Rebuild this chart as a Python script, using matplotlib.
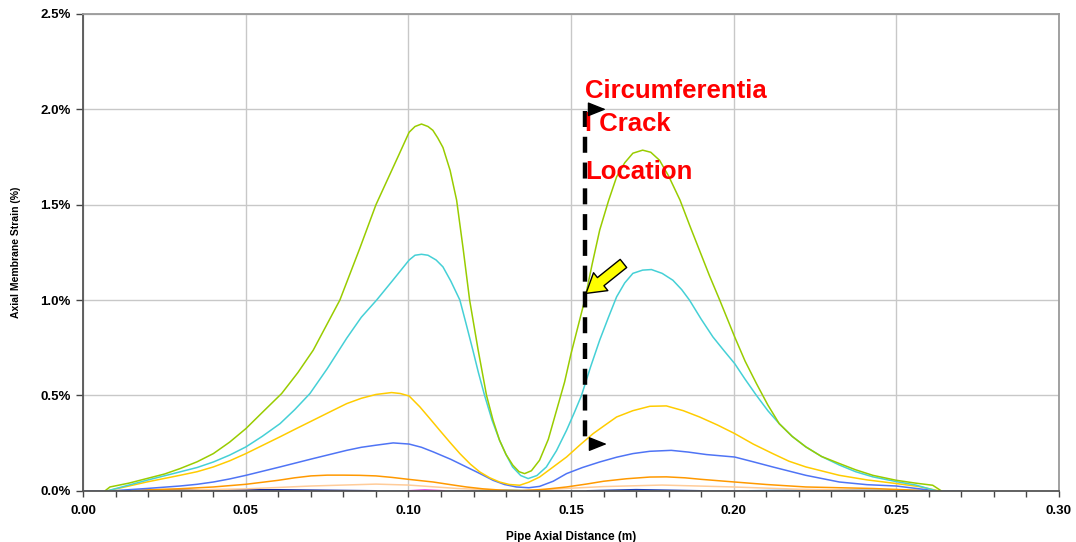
import numpy as np
import matplotlib.pyplot as plt
from matplotlib.ticker import MultipleLocator, FuncFormatter

plt.rcParams['font.family'] = ['Liberation Sans', 'DejaVu Sans']

# strain (%) vs pipe axial distance (m)
green_x = [0.0067, 0.0082, 0.014, 0.0195, 0.025, 0.0297, 0.035, 0.040, 0.045, 0.050, 0.055, 0.061,
           0.066, 0.0707, 0.0789, 0.085, 0.090, 0.097, 0.1002, 0.102, 0.104, 0.106, 0.1075, 0.109,
           0.1106, 0.1128, 0.1148, 0.1168, 0.1188, 0.1214, 0.124, 0.126, 0.128, 0.130, 0.1321,
           0.134, 0.1357, 0.1378, 0.1403, 0.143, 0.1455, 0.148, 0.150, 0.1542, 0.1565, 0.1588,
           0.1615, 0.164, 0.1665, 0.169, 0.172, 0.1745, 0.1772, 0.180, 0.1835, 0.1865, 0.1895,
           0.1925, 0.1957, 0.2003, 0.2035, 0.207, 0.2105, 0.214, 0.218, 0.2222, 0.227, 0.2325,
           0.2375, 0.2428, 0.25, 0.256, 0.2612, 0.2638]
green_y = [0, 0.02, 0.04, 0.064, 0.088, 0.116, 0.152, 0.195, 0.255, 0.326, 0.41, 0.51,
           0.62, 0.737, 1.0, 1.27, 1.50, 1.76, 1.88, 1.91, 1.923, 1.91, 1.89, 1.85,
           1.80, 1.68, 1.524, 1.27, 1.0, 0.74, 0.50, 0.37, 0.265, 0.19, 0.134,
           0.10, 0.09, 0.105, 0.16, 0.27, 0.42, 0.57, 0.72, 1.0, 1.19, 1.367,
           1.52, 1.646, 1.72, 1.77, 1.786, 1.775, 1.733, 1.65, 1.524, 1.39, 1.26,
           1.13, 1.0, 0.807, 0.68, 0.562, 0.45, 0.352, 0.285, 0.23, 0.18, 0.143,
           0.11, 0.081, 0.055, 0.04, 0.029, 0]

cyan_x = [0.0075, 0.0195, 0.0297, 0.035, 0.040, 0.045, 0.050, 0.055, 0.0605, 0.065, 0.0697,
          0.075, 0.081, 0.0855, 0.0902, 0.095, 0.1002, 0.102, 0.104, 0.106, 0.1085, 0.1106,
          0.113, 0.1158, 0.1178, 0.1198, 0.1215, 0.1234, 0.1257, 0.128, 0.130, 0.132, 0.1345,
          0.1368, 0.1395, 0.1424, 0.1455, 0.1486, 0.151, 0.1532, 0.156, 0.1588, 0.1615, 0.164,
          0.1665, 0.169, 0.172, 0.1747, 0.178, 0.1813, 0.184, 0.1864, 0.190, 0.1936, 0.197,
          0.2003, 0.2035, 0.207, 0.2105, 0.214, 0.218, 0.2222, 0.227, 0.2325, 0.2375, 0.2428,
          0.25, 0.256, 0.2623]
cyan_y = [0, 0.055, 0.099, 0.122, 0.151, 0.187, 0.23, 0.285, 0.352, 0.425, 0.51,
          0.64, 0.80, 0.91, 1.0, 1.10, 1.21, 1.235, 1.24, 1.235, 1.21, 1.174,
          1.10, 1.0, 0.87, 0.737, 0.62, 0.50, 0.37, 0.265, 0.19, 0.125, 0.08,
          0.064, 0.08, 0.125, 0.21, 0.317, 0.41, 0.50, 0.65, 0.79, 0.91, 1.017,
          1.09, 1.14, 1.157, 1.16, 1.14, 1.104, 1.055, 1.0, 0.90, 0.807, 0.735,
          0.667, 0.585, 0.50, 0.42, 0.352, 0.285, 0.23, 0.18, 0.135, 0.10, 0.073,
          0.048, 0.03, 0]

gold_x = [0.0075, 0.0195, 0.0297, 0.035, 0.040, 0.045, 0.050, 0.055, 0.0605, 0.0655, 0.0707,
          0.076, 0.081, 0.0855, 0.090, 0.0948, 0.0975, 0.1002, 0.1035, 0.1065, 0.1096, 0.1127,
          0.1158, 0.119, 0.1219, 0.125, 0.128, 0.131, 0.1342, 0.137, 0.1403, 0.1445, 0.1486,
          0.1527, 0.1568, 0.1605, 0.164, 0.169, 0.1742, 0.1793, 0.1845, 0.1895, 0.195, 0.2003,
          0.206, 0.212, 0.217, 0.2222, 0.2325, 0.241, 0.25, 0.257, 0.263]
gold_y = [0, 0.046, 0.081, 0.10, 0.125, 0.157, 0.195, 0.237, 0.283, 0.326, 0.37,
          0.415, 0.457, 0.485, 0.505, 0.515, 0.51, 0.497, 0.44, 0.38, 0.317, 0.255,
          0.195, 0.14, 0.099, 0.068, 0.046, 0.033, 0.029, 0.045, 0.072, 0.125, 0.177,
          0.24, 0.30, 0.345, 0.387, 0.42, 0.443, 0.445, 0.42, 0.387, 0.345, 0.30,
          0.245, 0.195, 0.155, 0.125, 0.081, 0.057, 0.038, 0.022, 0]

blue_x = [0.009, 0.0195, 0.0297, 0.035, 0.040, 0.045, 0.050, 0.0605, 0.0707, 0.081, 0.0855,
          0.090, 0.0953, 0.1002, 0.104, 0.1076, 0.113, 0.1178, 0.122, 0.126, 0.1295, 0.1332,
          0.137, 0.1403, 0.1445, 0.1486, 0.1535, 0.1588, 0.164, 0.169, 0.1742, 0.1808, 0.186,
          0.1916, 0.2003, 0.206, 0.212, 0.2222, 0.2325, 0.241, 0.25, 0.262]
blue_y = [0, 0.012, 0.025, 0.034, 0.046, 0.062, 0.081, 0.125, 0.169, 0.212, 0.228,
          0.239, 0.251, 0.245, 0.228, 0.204, 0.165, 0.125, 0.09, 0.055, 0.033, 0.02,
          0.016, 0.023, 0.05, 0.09, 0.122, 0.151, 0.176, 0.195, 0.207, 0.212, 0.203,
          0.19, 0.177, 0.152, 0.125, 0.081, 0.046, 0.032, 0.025, 0]

orange_x = [0.015, 0.02, 0.03, 0.04, 0.05, 0.06, 0.065, 0.07, 0.075, 0.08, 0.085, 0.09, 0.095,
            0.10, 0.1076, 0.113, 0.1178, 0.123, 0.128, 0.135, 0.142, 0.1486, 0.155, 0.16, 0.167,
            0.1742, 0.1793, 0.185, 0.19, 0.2003, 0.21, 0.2222, 0.2428, 0.26]
orange_y = [0, 0.005, 0.011, 0.02, 0.034, 0.055, 0.068, 0.078, 0.082, 0.082, 0.081, 0.078, 0.07,
            0.06, 0.046, 0.032, 0.02, 0.01, 0.004, 0, 0.008, 0.02, 0.036, 0.05, 0.063,
            0.072, 0.073, 0.068, 0.06, 0.046, 0.033, 0.02, 0.012, 0]

peach_x = [0.02, 0.05, 0.07, 0.09, 0.10, 0.115, 0.13, 0.14, 0.16, 0.178, 0.20, 0.22, 0.25]
peach_y = [0, 0.01, 0.025, 0.035, 0.03, 0.012, 0.002, 0.005, 0.022, 0.03, 0.02, 0.008, 0]

# lines hugging zero
navy_x, navy_y = [0.012, 0.03, 0.06, 0.09], [0, 0.005, 0.005, 0]
dblue_x, dblue_y = [0.155, 0.17, 0.19], [0, 0.006, 0]
mag_x, mag_y = [0.100, 0.105, 0.111], [0, 0.004, 0]
sky_x, sky_y = [0.122, 0.13, 0.14], [0, 0.004, 0]
azure_x, azure_y = [0.205, 0.23, 0.262], [0, 0.005, 0]
base_x, base_y = [0.0, 0.27], [0, 0]

series = [
    (base_x, base_y, '#7b96ee'),
    (navy_x, navy_y, '#0a1f9e'),
    (dblue_x, dblue_y, '#1f3fb5'),
    (mag_x, mag_y, '#e020e0'),
    (sky_x, sky_y, '#12c8f0'),
    (azure_x, azure_y, '#1e90ff'),
    (peach_x, peach_y, '#ffcc99'),
    (orange_x, orange_y, '#ff9900'),
    (blue_x, blue_y, '#4f74f5'),
    (gold_x, gold_y, '#ffcc00'),
    (cyan_x, cyan_y, '#45d0d6'),
    (green_x, green_y, '#99cc00'),
]

fig = plt.figure(figsize=(10.76, 5.42), dpi=100)
ax = fig.add_axes([0.0774, 0.0945, 0.9067, 0.8797])

for xs, ys, c in series:
    ax.plot(xs, ys, color=c, lw=1.1, solid_joinstyle='round')

ax.set_xlim(0, 0.30)
ax.set_ylim(0, 2.5)
ax.xaxis.set_major_locator(MultipleLocator(0.05))
ax.xaxis.set_minor_locator(MultipleLocator(0.01))
ax.yaxis.set_major_locator(MultipleLocator(0.5))
ax.xaxis.set_major_formatter(FuncFormatter(lambda v, p: '%.2f' % v))
ax.yaxis.set_major_formatter(FuncFormatter(lambda v, p: '%.1f%%' % v))
ax.grid(True, color='#c8c8c8', lw=1.0)
ax.set_axisbelow(True)

for s in ['left', 'bottom']:
    ax.spines[s].set_color('#555555')
    ax.spines[s].set_linewidth(1.3)
for s in ['top', 'right']:
    ax.spines[s].set_color('#9a9a9a')
    ax.spines[s].set_linewidth(1.3)

ax.tick_params(axis='both', which='both', direction='out', color='#444444', width=1.0)
ax.tick_params(axis='x', which='major', length=4, pad=6)
ax.tick_params(axis='x', which='minor', length=4)
ax.tick_params(axis='y', which='major', length=5, pad=4)
for lab in ax.get_xticklabels() + ax.get_yticklabels():
    lab.set_fontweight('bold')
    lab.set_fontsize(9.5)

ax.set_xlabel('Pipe Axial Distance (m)', fontsize=8.5, fontweight='bold', labelpad=10)
ax.set_ylabel('Axial Membrane Strain (%)', fontsize=7.5, fontweight='bold', labelpad=14)

# crack location annotation
crack_x = 0.1543
tfont = dict(color='red', fontsize=18.5, fontweight='bold', ha='left', va='baseline')
ax.text(crack_x, 2.06, 'Circumferentia', **tfont)
ax.text(crack_x, 1.885, 'l Crack', **tfont)
ax.text(crack_x, 1.633, 'Location', **tfont)

ax.plot([crack_x, crack_x], [1.99, 0.26], color='black', lw=3.2, ls=(0, (3.6, 2.2)))
head = dict(arrowstyle='-|>,head_length=0.8,head_width=0.32', color='black', lw=1.0,
            mutation_scale=14, shrinkA=0, shrinkB=0)
ax.annotate('', xy=(0.1607, 2.0), xytext=(0.1557, 2.0), arrowprops=head)
ax.annotate('', xy=(0.1610, 0.245), xytext=(0.1560, 0.245), arrowprops=head)

ax.annotate('', xy=(0.1546, 1.035), xytext=(0.1661, 1.192),
            arrowprops=dict(arrowstyle='simple,head_length=0.9,head_width=1.1,tail_width=0.5',
                            fc='#ffff00', ec='black', lw=1.0, mutation_scale=15,
                            shrinkA=0, shrinkB=0))

fig.savefig('out.png', dpi=100)
